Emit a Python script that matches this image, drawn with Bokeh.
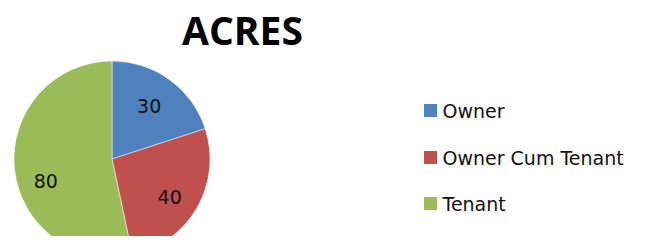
import numpy as np
from bokeh.plotting import figure
from bokeh.models import Range1d, ColumnDataSource
from bokeh.core.properties import value
from bokeh.embed import file_html
from bokeh.resources import INLINE

title_text = "ACRES"
categories = ["Owner", "Owner Cum Tenant", "Tenant"]
values = [30, 40, 80]
colors = ["#4F81BD", "#C0504D", "#9BBB59"]

W, H = 629, 236
p = figure(width=W, height=H, output_backend="svg", toolbar_location=None,
           x_range=Range1d(0, W), y_range=Range1d(0, H), min_border=0)
p.axis.visible = False
p.grid.visible = False
p.outline_line_color = None
p.background_fill_color = "white"
p.border_fill_color = "white"

def Y(img_y):
    return H - img_y

cx, cy, R = 111.5, Y(158.5), 98
vals = np.array(values, dtype=float)
frac = vals / vals.sum()
cum_end = np.cumsum(frac) * 2 * np.pi
cum_start = cum_end - frac * 2 * np.pi
start = np.pi / 2 - cum_start
end = np.pi / 2 - cum_end
src = ColumnDataSource(dict(start=start, end=end, color=colors))
p.wedge(x=cx, y=cy, radius=R, start_angle="start", end_angle="end",
        direction="clock", fill_color="color", line_color="white", line_width=0.5,
        source=src)

# data labels (small layout nudges to match the original placement)
nudge_x = [-2, 0, 0]
nudge_y = [-1, -5, -15]
mid = np.pi / 2 - (cum_start + cum_end) / 2
lr = 0.68 * R
p.text(x=cx + lr * np.cos(mid) + np.array(nudge_x), y=cy + lr * np.sin(mid) + np.array(nudge_y),
       text=[str(v) for v in values],
       text_align="center", text_baseline="middle", text_font=value("DejaVu Sans"),
       text_font_size="19px", text_color="#111111")

p.text(x=[242], y=[Y(29)], text=[title_text], text_align="center", text_baseline="middle",
       text_font=value("Open Sans"), text_font_style="bold", text_font_size="39px",
       text_color="black")

ly = [Y(110), Y(157), Y(203)]
p.scatter(x=[430] * 3, y=ly, marker="square", size=13, fill_color=colors, line_color=None)
p.text(x=[442] * 3, y=ly, text=categories, text_align="left", text_baseline="middle",
       text_font=value("DejaVu Sans"), text_font_size="19px", text_color="#111111")

open("out.html", "w").write(file_html(p, INLINE))
